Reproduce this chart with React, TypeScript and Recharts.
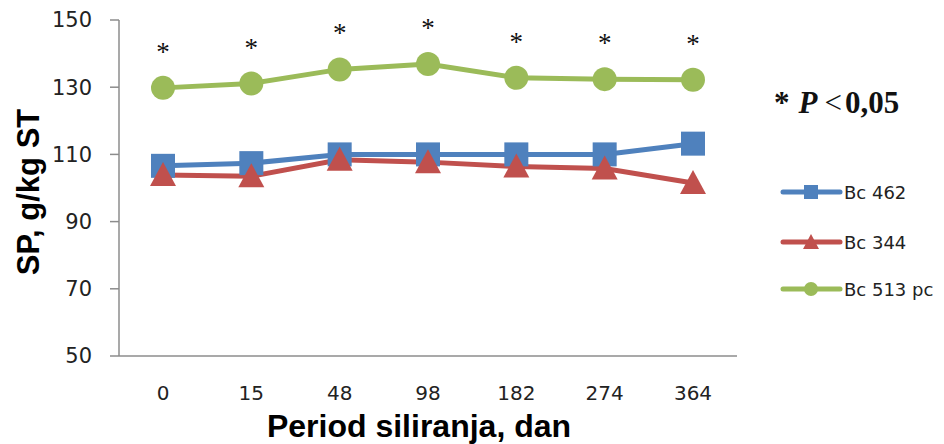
import React from 'react';
import { LineChart, Line, XAxis, YAxis, Legend, LabelList, Label } from 'recharts';

const categories = ['0', '15', '48', '98', '182', '274', '364'];
const bc462 = [106.6, 107.4, 110, 110, 110, 110, 113.2];
const bc344 = [103.9, 103.5, 108.4, 107.7, 106.4, 105.8, 101.5];
const bc513 = [129.8, 131.1, 135.3, 136.9, 132.8, 132.4, 132.2];
const significance = ['*', '*', '*', '*', '*', '*', '*'];
const yTicks = [50, 70, 90, 110, 130, 150];
const seriesOrder = ['bc462', 'bc344', 'bc513'];

const BLUE = '#4F81BD';
const RED = '#C0504D';
const GREEN = '#9BBB59';

const data = categories.map((c, i) => ({
  period: c,
  bc462: bc462[i],
  bc344: bc344[i],
  bc513: bc513[i],
  sig: significance[i],
}));

const SquareDot = (props: any) => {
  const { cx, cy } = props;
  if (cx == null || cy == null) return null;
  return <rect x={cx - 12} y={cy - 12} width={24} height={24} fill={BLUE} />;
};
const TriangleDot = (props: any) => {
  const { cx, cy } = props;
  if (cx == null || cy == null) return null;
  return <polygon points={`${cx},${cy - 13} ${cx - 13},${cy + 11} ${cx + 13},${cy + 11}`} fill={RED} />;
};
const CircleDot = (props: any) => {
  const { cx, cy } = props;
  if (cx == null || cy == null) return null;
  return <circle cx={cx} cy={cy} r={12} fill={GREEN} />;
};

const Asterisk = (props: any) => {
  const { x, y, value } = props;
  return (
    <text x={x} y={y - 27} textAnchor="middle" fontFamily="Liberation Serif" fontSize={27} fill="#111">
      {value}
    </text>
  );
};

const legendMarker = (key: string, x: number, y: number, color: string) => {
  if (key === 'bc462') return <rect x={x - 7} y={y - 7} width={14} height={14} fill={color} />;
  if (key === 'bc344') return <polygon points={`${x},${y - 8} ${x - 8},${y + 7} ${x + 8},${y + 7}`} fill={color} />;
  return <circle cx={x} cy={y} r={7} fill={color} />;
};

const LegendContent = (props: any) => {
  const payload = [...(props.payload || [])].sort(
    (a: any, b: any) => seriesOrder.indexOf(a.dataKey) - seriesOrder.indexOf(b.dataKey)
  );
  const rows = [122, 172, 219];
  return (
    <svg width={174} height={240} style={{ display: 'block', overflow: 'visible' }}>
      <text x={4} y={43} fontFamily="Liberation Serif" fontSize={31} fontWeight="bold" fill="#111">
        <tspan>*</tspan>
        <tspan dx={9} fontStyle="italic">P</tspan>
        <tspan dx={7} fontWeight="normal">&lt;</tspan>
        <tspan dx={3}>0,05</tspan>
      </text>
      {payload.map((p: any, i: number) => {
        const y = rows[i];
        return (
          <g key={p.value}>
            <line x1={13} y1={y} x2={70} y2={y} stroke={p.color} strokeWidth={5} strokeLinecap="round" />
            {legendMarker(p.dataKey, 41, y, p.color)}
            <text x={74} y={y + 7} fontFamily="DejaVu Sans" fontSize={18} fill="#222">
              {p.value}
            </text>
          </g>
        );
      })}
    </svg>
  );
};

const XTitle = (props: any) => {
  const vb = props.viewBox || {};
  return (
    <text x={vb.x + vb.width / 2 - 9} y={437} textAnchor="middle" fontFamily="Liberation Sans" fontWeight="bold" fontSize={32} fill="#000">
      Period siliranja, dan
    </text>
  );
};
const YTitle = (props: any) => {
  const vb = props.viewBox || {};
  const cy = vb.y + vb.height / 2 + 4;
  return (
    <text x={39} y={cy} transform={`rotate(-90, 39, ${cy})`} textAnchor="middle" fontFamily="Liberation Sans" fontWeight="bold" fontSize={31} fill="#000">
      SP, g/kg ST
    </text>
  );
};

export default function App() {
  return (
    <div style={{ position: 'absolute', left: 0, top: 0, width: 944, height: 444, background: '#fff' }}>
      <LineChart width={944} height={444} data={data} margin={{ top: 20, right: 207, bottom: 0, left: 0 }}>
        <XAxis
          dataKey="period"
          height={88}
          padding={{ left: 44, right: 44 }}
          tickLine={false}
          tickSize={0}
          tickMargin={30}
          axisLine={{ stroke: '#8c8c8c', strokeWidth: 1.5 }}
          tick={{ fontFamily: 'DejaVu Sans', fontSize: 20, fill: '#222' }}
        >
          <Label content={<XTitle />} />
        </XAxis>
        <YAxis
          width={119}
          domain={[50, 150]}
          ticks={yTicks}
          interval={0}
          tickSize={9}
          tickMargin={18}
          axisLine={{ stroke: '#8c8c8c', strokeWidth: 1.5 }}
          tickLine={{ stroke: '#8c8c8c', strokeWidth: 1.5 }}
          tick={{ fontFamily: 'DejaVu Sans', fontSize: 21, fill: '#222' }}
        >
          <Label content={<YTitle />} />
        </YAxis>
        <Legend
          layout="horizontal"
          verticalAlign="middle"
          content={<LegendContent />}
          wrapperStyle={{ left: 770, top: 70, width: 174, height: 240 }}
        />
        <Line dataKey="bc462" name="Bc 462" stroke={BLUE} strokeWidth={5} dot={<SquareDot />} activeDot={false} isAnimationActive={false} />
        <Line dataKey="bc344" name="Bc 344" stroke={RED} strokeWidth={5} dot={<TriangleDot />} activeDot={false} isAnimationActive={false} />
        <Line dataKey="bc513" name="Bc 513 pc" stroke={GREEN} strokeWidth={5} dot={<CircleDot />} activeDot={false} isAnimationActive={false}>
          <LabelList dataKey="sig" content={<Asterisk />} />
        </Line>
      </LineChart>
    </div>
  );
}
